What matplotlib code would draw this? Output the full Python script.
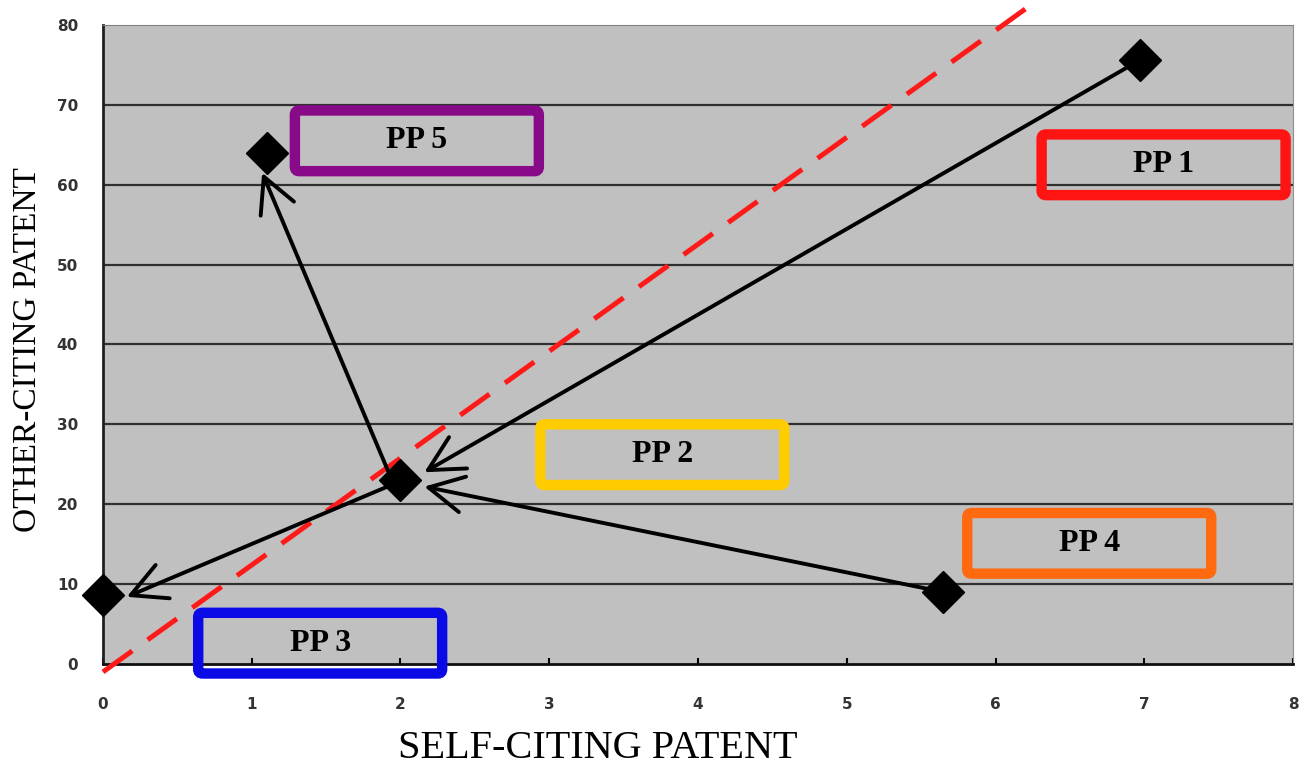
import matplotlib.pyplot as plt
from matplotlib.patches import FancyBboxPatch

# patent positions (self-citing, other-citing)
names = ["PP 1", "PP 2", "PP 3", "PP 4", "PP 5"]
self_cite = [6.97, 2.0, 0.0, 5.65, 1.1]
other_cite = [75.6, 23.0, 8.6, 9.0, 64.0]

# label boxes: centre of each box
box_x = [7.13, 3.76, 1.46, 6.63, 2.11]
box_y = [62.5, 26.2, 2.6, 15.1, 65.5]
box_colors = ["#ff1414", "#ffcc00", "#0a0ae6", "#ff6a10", "#880a88"]

# arrows between patents: start and tip
arrow_from = [(6.97, 75.6), (5.65, 9.0), (1.95, 22.5), (1.92, 24.0)]
arrow_to = [(2.16, 24.0), (2.16, 22.2), (0.16, 8.4), (1.07, 61.5)]

# reference diagonal
diag_x = [0.0, 6.2]
diag_y = [-1.0, 82.0]

xticks = [0, 1, 2, 3, 4, 5, 6, 7, 8]
yticks = [0, 10, 20, 30, 40, 50, 60, 70, 80]

fig = plt.figure(figsize=(13.07, 7.72), dpi=100)
ax = fig.add_axes([0.0788, 0.14, 0.9105, 0.8276])
ax.set_facecolor("#c0c0c0")
ax.set_xlim(0, 8)
ax.set_ylim(0, 80)

# horizontal gridlines
for y in yticks[1:-1]:
    ax.axhline(y, color="#303030", lw=1.6, zorder=1)

ax.plot(diag_x, diag_y, color="#ff1a1a", lw=3.6, dashes=(7.2, 3.8),
        clip_on=False, zorder=3, solid_capstyle="butt")

for (x0, y0), (x1, y1) in zip(arrow_from, arrow_to):
    ax.annotate("", xy=(x1, y1), xytext=(x0, y0),
                arrowprops=dict(arrowstyle="->,head_length=1.25,head_width=0.65",
                                color="black", lw=2.8, shrinkA=0, shrinkB=0,
                                mutation_scale=20),
                zorder=4)

ax.plot(self_cite, other_cite, "D", color="black", markersize=21,
        markeredgewidth=1, clip_on=False, zorder=5)

# rounded label boxes
bw, bh = 1.64, 7.6
aspect = (80 / 639) / (8 / 1190)
for name, cx, cy, c in zip(names, box_x, box_y, box_colors):
    p = FancyBboxPatch((cx - bw / 2, cy - bh / 2), bw, bh,
                       boxstyle="round,pad=0,rounding_size=0.03",
                       mutation_aspect=aspect, fc="none", ec=c, lw=7.5,
                       clip_on=False, zorder=6)
    ax.add_patch(p)
    ax.text(cx, cy, name, ha="center", va="center", fontsize=23,
            fontweight="bold", family="Liberation Serif", zorder=7)

ax.set_xticks(xticks)
ax.set_yticks(yticks)
ax.tick_params(axis="x", direction="in", length=4, width=1.5, pad=24,
               labelsize=11, labelcolor="#333333")
ax.tick_params(axis="y", length=0, pad=18, labelsize=11, labelcolor="#333333")
for lab in ax.get_xticklabels() + ax.get_yticklabels():
    lab.set_fontweight("bold")

ax.spines["left"].set_color("#202020")
ax.spines["left"].set_linewidth(2)
ax.spines["bottom"].set_color("#101010")
ax.spines["bottom"].set_linewidth(2)
ax.spines["top"].set_color("#808080")
ax.spines["right"].set_color("#909090")

fig.text(0.457, 0.031, "SELF-CITING PATENT", ha="center", va="center",
         fontsize=29, family="Liberation Serif")
fig.text(0.021, 0.547, "OTHER-CITING PATENT", ha="center", va="center",
         rotation=90, fontsize=24, family="Liberation Serif")

fig.savefig("out.png", dpi=100)
